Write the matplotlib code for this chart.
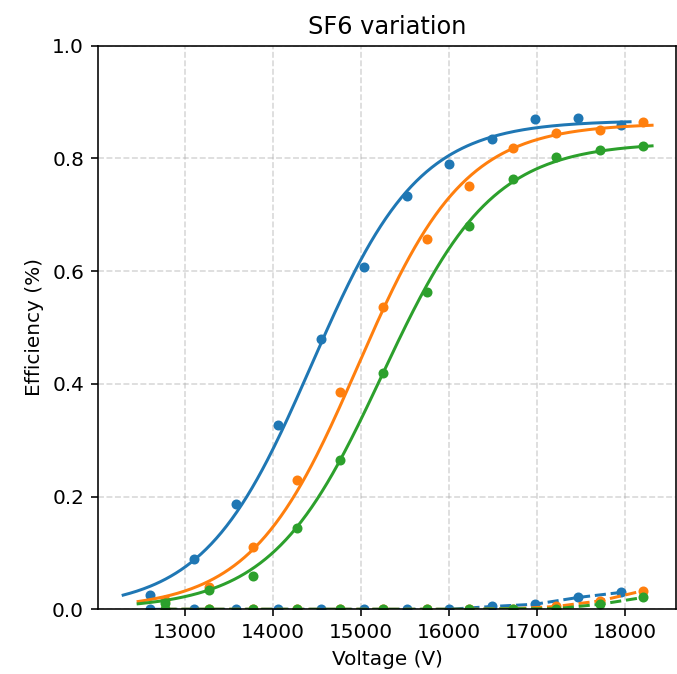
import numpy as np
import matplotlib
matplotlib.use("Agg")
import matplotlib.pyplot as plt

# ---- data ----
blue_v = np.array([12610, 13100, 13580, 14060, 14550, 15040, 15530, 16000, 16490, 16980, 17470, 17960])
blue_eff = np.array([0.025, 0.089, 0.186, 0.327, 0.479, 0.608, 0.733, 0.790, 0.835, 0.870, 0.871, 0.859])
blue_bg = np.array([0, 0, 0, 0, 0, 0, 0, 0, 0.005, 0.009, 0.021, 0.030])

og_v = np.array([12780, 13280, 13775, 14270, 14765, 15250, 15750, 16230, 16730, 17220, 17720, 18210])
orange_eff = np.array([0.016, 0.040, 0.1105, 0.229, 0.385, 0.536, 0.657, 0.750, 0.818, 0.845, 0.851, 0.864])
orange_bg = np.array([0, 0, 0, 0, 0, 0, 0, 0, 0.001, 0.005, 0.015, 0.033])
green_eff = np.array([0.012, 0.034, 0.059, 0.144, 0.265, 0.419, 0.562, 0.680, 0.763, 0.802, 0.815, 0.822])
green_bg = np.array([0, 0, 0, 0, 0, 0, 0, 0, 0.001, 0.001, 0.009, 0.021])

# logistic fit parameters (plateau, midpoint V, steepness per kV)
fit_plateau = [0.867, 0.862, 0.828]
fit_mid = [14440, 14965, 15238]
fit_k = [1.64, 1.65, 1.60]

colors = ["#1f77b4", "#ff7f0e", "#2ca02c"]


def logistic(x, A, x0, k):
    return A / (1 + np.exp(-k * (x - x0) / 1000.0))


fig = plt.figure(figsize=(677 / 144, 674 / 144), dpi=144)
ax = fig.add_axes([98 / 677, 1 - 609.3 / 674, (676 - 98) / 677, (609.3 - 45.5) / 674])

series = [
    (blue_v, blue_eff, blue_bg),
    (og_v, orange_eff, orange_bg),
    (og_v, green_eff, green_bg),
]

for i, (v, eff, bg) in enumerate(series):
    c = colors[i]
    xx = np.linspace(v.min() - 310, v.max() + 100, 300)
    ax.plot(xx, logistic(xx, fit_plateau[i], fit_mid[i], fit_k[i]), color=c, lw=1.5)
    ax.plot(v, eff, "o", color=c, markersize=4)
    ax.plot(v, bg, "o--", color=c, markersize=4, lw=1.5)

ax.set_xlim(12014, 18582)
ax.set_ylim(0, 1.0)
ax.set_xticks([13000, 14000, 15000, 16000, 17000, 18000])
ax.set_yticks([0.0, 0.2, 0.4, 0.6, 0.8, 1.0])
ax.grid(True, linestyle="--", alpha=0.5)
ax.set_xlabel("Voltage (V)")
ax.set_ylabel("Efficiency (%)")
ax.set_title("SF6 variation")

fig.savefig("out.png", dpi=144)
